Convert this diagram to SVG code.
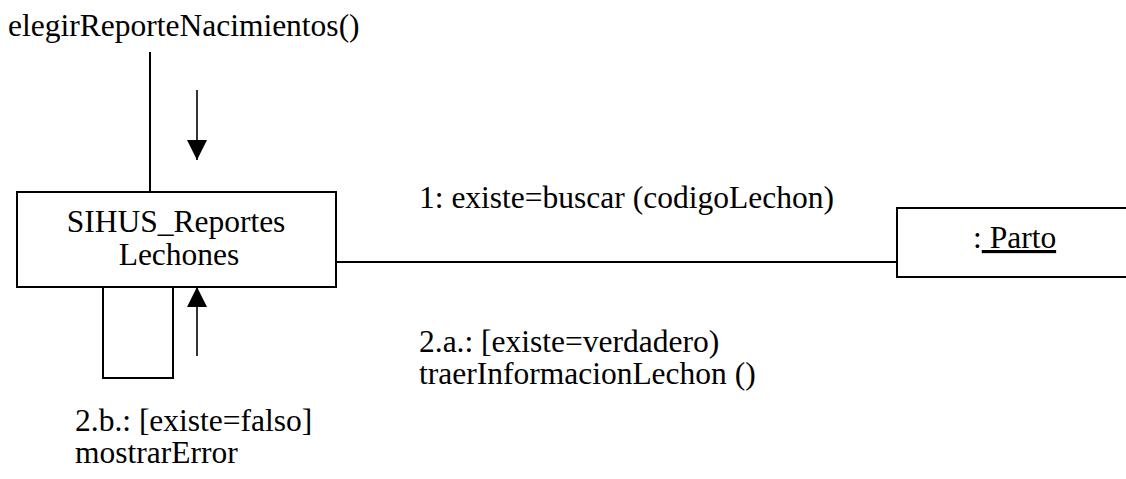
<svg xmlns="http://www.w3.org/2000/svg" width="1126" height="479" viewBox="0 0 1126 479">
  <style>
    text { font-family: 'Liberation Serif', 'Times New Roman', 'DejaVu Serif', serif; font-size: 31.5px; fill: #000; }
    .box { fill: #fff; stroke: #000; stroke-width: 2; }
    .ln { fill: none; stroke: #000; stroke-width: 2; }
    .ar { fill: none; stroke: #000; stroke-width: 1.6; }
  </style>
  <defs>
    <marker id="head" viewBox="0 0 20 20" refX="20" refY="10" markerWidth="20" markerHeight="20" markerUnits="userSpaceOnUse" orient="auto">
      <path d="M0,0 L20,10 L0,20 Z" fill="#000"/>
    </marker>
  </defs>
  <rect width="1126" height="479" fill="#fff"/>

  <g id="connectors">
    <line class="ln" x1="150" y1="52" x2="150" y2="192"/>
    <line class="ln" x1="336" y1="262" x2="897" y2="262"/>
    <polyline class="ln" points="103,287 103,378 173,378 173,287"/>
    <line class="ar" x1="197" y1="90" x2="197" y2="160" marker-end="url(#head)"/>
    <line class="ar" x1="197" y1="356" x2="197" y2="287" marker-end="url(#head)"/>
  </g>

  <g id="node-sihus">
    <rect class="box" x="17" y="192" width="319" height="95"/>
    <text x="176" y="232" text-anchor="middle">SIHUS_Reportes</text>
    <text x="179" y="265" text-anchor="middle">Lechones</text>
  </g>

  <g id="node-parto">
    <path class="box" d="M1127,208 L897,208 L897,277 L1127,277"/>
    <text x="973" y="248">:<tspan text-decoration="underline"> Parto</tspan></text>
  </g>

  <g id="labels">
    <text x="8" y="36">elegirReporteNacimientos()</text>
    <text x="419" y="208">1: existe=buscar (codigoLechon)</text>
    <text x="419" y="352">2.a.: [existe=verdadero)</text>
    <text x="419" y="384">traerInformacionLechon ()</text>
    <text x="75" y="431">2.b.: [existe=falso]</text>
    <text x="75" y="463">mostrarError</text>
  </g>
</svg>
